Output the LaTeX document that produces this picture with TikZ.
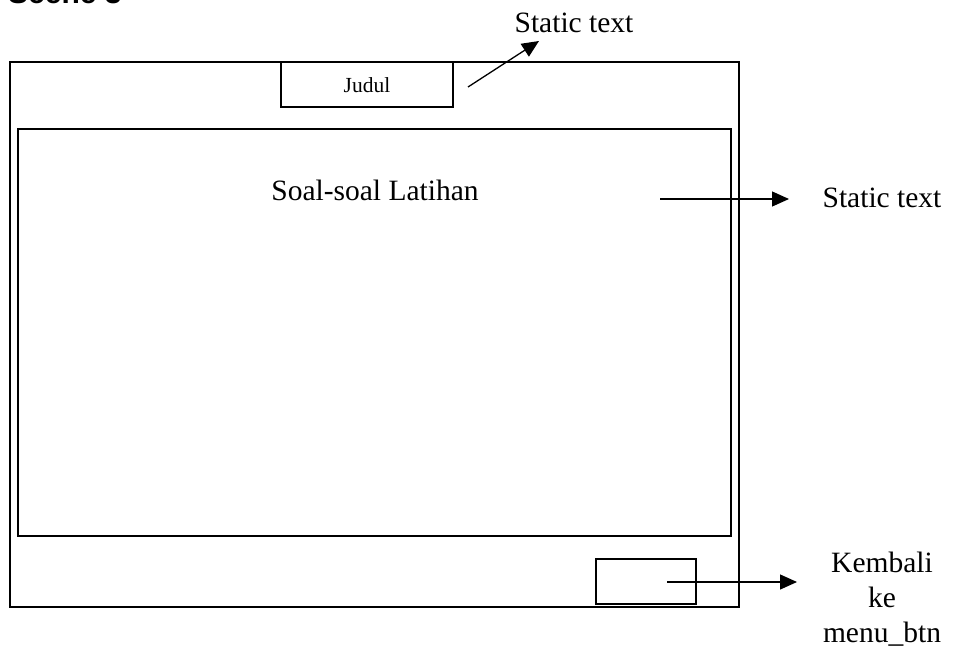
\documentclass[tikz,border=0pt]{standalone}
\usepackage{fontspec}
\setmainfont{Liberation Serif}
\newfontfamily\headfont{Liberation Sans}
\usepackage{tikz}
\usetikzlibrary{arrows.meta,positioning}

\begin{document}
\begin{tikzpicture}[x=1pt, y=-1pt, every node/.style={font=\fontsize{29.5}{35}\selectfont},
  frame/.style={draw, line width=1.1pt, inner sep=0pt},
  lbl/.style={inner sep=0pt, align=center},
  arr/.style={-{Triangle[length=17pt,width=15pt]}, line width=1.3pt}]
\useasboundingbox (0,0) rectangle (953,650);
\node[anchor=base west, inner sep=0pt, font=\headfont\bfseries\fontsize{30}{36}\selectfont] (scene) at (8,4) {Scene 3};
\node[frame, minimum width=729pt, minimum height=545pt] (screen) at (374.5,334.5) {};
\node[frame, minimum width=172pt, minimum height=45pt] (judul) at (367,84.5) {};
\node[anchor=base, inner sep=0pt, font=\fontsize{21.5}{25}\selectfont] (judultxt) at (367,93) {Judul};
\node[frame, minimum width=713pt, minimum height=407pt] (content) at (374.5,332.5) {};
\node[anchor=base, inner sep=0pt] (soal) at (375,200) {Soal-soal Latihan};
\node[frame, minimum width=100pt, minimum height=45pt] (btn) at (646,581.5) {};
\node[lbl, anchor=base] (lbltop) at (574,33) {Static text};
\node[lbl, anchor=base] (lblright) at (882,207) {Static text};
\node[lbl, anchor=north] (lblbtn) at (882,552) {Kembali\\ke\\menu\_btn};
\coordinate (a1) at (468,87);
\coordinate (t1) at (539,41);
\coordinate (a2) at (660,199);
\coordinate (t2) at (789,199);
\coordinate (a3) at (667,582);
\coordinate (t3) at (797,582);
\draw[arr] (a1) -- (t1);
\draw[arr] (a2) -- (t2);
\draw[arr] (a3) -- (t3);
\end{tikzpicture}
\end{document}
